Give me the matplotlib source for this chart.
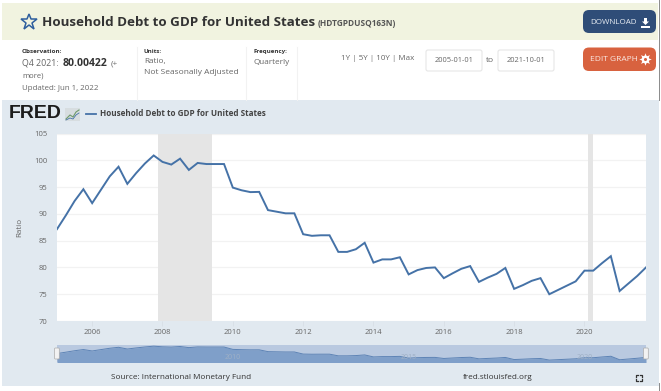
import matplotlib
matplotlib.use('Agg')
from matplotlib import pyplot as plt
from matplotlib.patches import Rectangle, FancyBboxPatch, Polygon

plt.rcParams['font.family'] = ['Open Sans', 'DejaVu Sans']

###################
# Chart data      #
###################
# One value per quarter, 2005 Q1 to 2021 Q4
start_year = 2005
ratio_values = [
    87.15, 89.7, 92.4, 94.6,
    92.0, 94.5, 97.0, 98.8,
    95.6, 97.6, 99.4, 100.9,
    99.7, 99.2, 100.3, 98.2,
    99.5, 99.3, 99.3, 99.3,
    94.9, 94.4, 94.06, 94.1,
    90.7, 90.4, 90.1, 90.1,
    86.2, 85.9, 86.0, 86.0,
    82.9, 82.9, 83.4, 84.6,
    80.9, 81.5, 81.5, 81.9,
    78.7, 79.5, 79.9, 80.0,
    78.0, 78.9, 79.75, 80.25,
    77.3, 78.1, 78.8, 79.9,
    76.0, 76.7, 77.5, 78.0,
    75.0, 75.8, 76.6, 77.4,
    79.4, 79.4, 80.8, 82.1,
    75.6, 77.0, 78.4, 80.00422,
]
recessions = [(2007.88, 2009.42), (2020.1, 2020.25)]
y_ticks = [70, 75, 80, 85, 90, 95, 100, 105]
x_ticks = [2006, 2008, 2010, 2012, 2014, 2016, 2018, 2020]
nav_ticks = [2010, 2015, 2020]

series_title = 'Household Debt to GDP for United States'
series_id = '(HDTGPDUSQ163N)'

# Colours
line_color = '#4572a7'
panel_color = '#e1e9f0'
band_color = '#f1f3e0'
text_color = '#666666'
dark_text = '#333333'

W, H = 661, 391
dates = [start_year + i / 4 for i in range(len(ratio_values))]


# Axes from a box given in pixels of the picture
def pixel_axes(fig, left, top, right, bottom):
    return fig.add_axes([left / W, 1 - bottom / H, (right - left) / W, (bottom - top) / H])


fig = plt.figure(figsize=(W / 100, H / 100), dpi=100)

# Page furniture, drawn in pixel coordinates
page = fig.add_axes([0, 0, 1, 1], zorder=0)
page.set_xlim(0, W)
page.set_ylim(H, 0)
page.axis('off')

page.add_patch(Rectangle((2, 3), 656, 37, color=band_color, lw=0))
page.add_patch(Rectangle((2, 100), 657, 286, color=panel_color, lw=0))
page.plot([658.5, 658.5], [0, 100], color='#8a8a8a', lw=0.7)
page.plot([29], [22], marker='*', markersize=12, markerfacecolor='none',
          markeredgecolor='#2f5f9e', markeredgewidth=1.1)
page.text(42, 22, series_title, fontsize=9.65, fontweight='bold', color=dark_text, va='center')
page.text(318, 23.5, series_id, fontsize=5.95, fontweight='bold', color='#555555', va='center')

# Notes under the title
for x in [137, 246, 297]:
    page.plot([x, x], [47, 100], color='#f2f2f2', lw=0.8)
page.text(22, 51.5, 'Observation:', fontsize=4.5, fontweight='bold', color=dark_text, va='center')
page.text(22, 63, 'Q4 2021:', fontsize=6.4, color=text_color, va='center')
page.text(62.5, 63, '80.00422', fontsize=7.6, fontweight='bold', color=dark_text, va='center')
page.text(110.5, 64, '(+', fontsize=6, color=text_color, va='center')
page.text(22, 76, 'more)', fontsize=5.6, color=text_color, va='center')
page.text(22, 88, 'Updated: Jun 1, 2022', fontsize=5.7, color=text_color, va='center')
page.text(144, 51.5, 'Units:', fontsize=4.4, fontweight='bold', color=dark_text, va='center')
page.text(144, 62, 'Ratio,', fontsize=5.9, color=text_color, va='center')
page.text(144, 73, 'Not Seasonally Adjusted', fontsize=6, color=text_color, va='center')
page.text(254, 51.5, 'Frequency:', fontsize=4.45, fontweight='bold', color=dark_text, va='center')
page.text(254, 62, 'Quarterly', fontsize=5.9, color=text_color, va='center')

# Date range controls
page.text(341, 58.5, '1Y | 5Y | 10Y | Max', fontsize=5.8, color=text_color, va='center')
for x, label in [(425, '2005-01-01'), (497, '2021-10-01')]:
    page.add_patch(FancyBboxPatch((x + 1, 50), 56, 21, boxstyle='round,pad=0,rounding_size=2',
                                  facecolor='white', edgecolor='#e6e6e6', lw=0.8))
    page.text(x + 29, 61, label, fontsize=5.4, color=text_color, ha='center', va='center')
page.text(490, 60.5, 'to', fontsize=6, color=text_color, ha='center', va='center')

# Buttons
page.add_patch(FancyBboxPatch((583, 10), 73, 23, boxstyle='round,pad=0,rounding_size=6',
                              facecolor='#2f4d78', edgecolor='none'))
page.text(590, 22, 'DOWNLOAD', fontsize=5.8, color='#e8edf3', va='center')
# download arrow and tray
page.add_patch(Polygon([(644, 18), (647, 18), (647, 21.5), (649, 21.5), (645.5, 25), (642, 21.5), (644, 21.5)],
                       facecolor='white', edgecolor='none'))
page.add_patch(Rectangle((641, 25.5), 9, 2.5, color='white', lw=0))
page.add_patch(FancyBboxPatch((583, 47.5), 73, 23.5, boxstyle='round,pad=0,rounding_size=6',
                              facecolor='#d8623f', edgecolor='none'))
page.text(590, 59.5, 'EDIT GRAPH', fontsize=6, color='#fbe9e3', va='center')
# gear
page.plot([645], [59], marker=(8, 1, 0), markersize=9, color='white', markeredgewidth=0)
page.plot([645], [59], marker='o', markersize=5.5, color='white', markeredgewidth=0)
page.plot([645], [59], marker='o', markersize=2.2, color='#d8623f', markeredgewidth=0)

# FRED header
page.text(9, 114, 'FRED', fontsize=14, fontweight='bold', color='#1c1c1c', va='center',
          family='Liberation Sans')
page.add_patch(Rectangle((65, 108), 15, 13, color='#d7dde0', lw=0))
page.plot([66, 70, 73, 76, 79], [119, 115, 117, 112, 110], color='#6f9a6c', lw=0.8)
page.plot([66, 70, 73, 76, 79], [120, 118, 119, 115, 113], color='#4572a7', lw=0.6)
page.plot([86, 96], [114, 114], color=line_color, lw=1.3)
page.text(100, 114, series_title, fontsize=5.85, fontweight='bold', color='#444444', va='center')

# Footer
page.text(111, 377.5, 'Source: International Monetary Fund', fontsize=5.85, color=dark_text, va='center')
page.text(463, 377.5, 'fred.stlouisfed.org', fontsize=5.9, color=dark_text, va='center')
# fullscreen corners
for cx, sx in [(636, 1), (642, -1)]:
    for cy, sy in [(375, 1), (381, -1)]:
        page.plot([cx + 2 * sx, cx, cx], [cy, cy, cy + 2 * sy], color=dark_text, lw=0.9)
page.plot([658.5, 658.5], [383, 391], color='#8a8a8a', lw=0.7)

# Main chart
ax = pixel_axes(fig, 57, 133.5, 646, 321)
ax.set_zorder(1)
for start, end in recessions:
    ax.axvspan(start, end, color='#e5e5e5', lw=0, zorder=1)
ax.plot(dates, ratio_values, color=line_color, lw=1.4, zorder=3, solid_joinstyle='miter')
ax.set_xlim(dates[0], dates[-1])
ax.set_ylim(70, 105)
ax.set_yticks(y_ticks)
ax.set_xticks(x_ticks)
ax.grid(axis='y', color='#f2f2f2', lw=0.9, zorder=0)
ax.set_axisbelow(True)
ax.tick_params(axis='y', length=0, pad=7, labelsize=5.5, labelcolor=text_color)
ax.tick_params(axis='x', length=3.5, width=0.6, color='#d8dfe6', pad=2.5, labelsize=5.5, labelcolor=text_color)
ax.set_ylabel('Ratio', fontsize=5.8, color=text_color, labelpad=8)
for side in ax.spines.values():
    side.set_visible(False)

# Range navigator below the chart
nav = pixel_axes(fig, 57, 344.5, 646, 361.7)
nav.set_zorder(1)
nav.set_facecolor('#b9c9e0')
nav.fill_between(dates, ratio_values, 60, color='#7f9fc9', lw=0)
nav.plot(dates, ratio_values, color='#5d83b5', lw=0.7)
nav.set_xlim(dates[0], dates[-1])
nav.set_ylim(72, 104)
nav.set_yticks([])
nav.set_xticks([])
for year in nav_ticks:
    nav.text(year, 74, str(year), fontsize=5, color='#9fb0c6', ha='center', va='bottom')
for side in nav.spines.values():
    side.set_visible(False)

# Navigator handles sit above everything
top = fig.add_axes([0, 0, 1, 1], zorder=2)
top.set_xlim(0, W)
top.set_ylim(H, 0)
top.axis('off')
for x in [54.5, 643.5]:
    top.add_patch(FancyBboxPatch((x, 348), 4.8, 11, boxstyle='round,pad=0,rounding_size=1',
                                 facecolor='#f2f2f2', edgecolor='#aaaaaa', lw=0.5))

fig.savefig('out.png', dpi=100)
